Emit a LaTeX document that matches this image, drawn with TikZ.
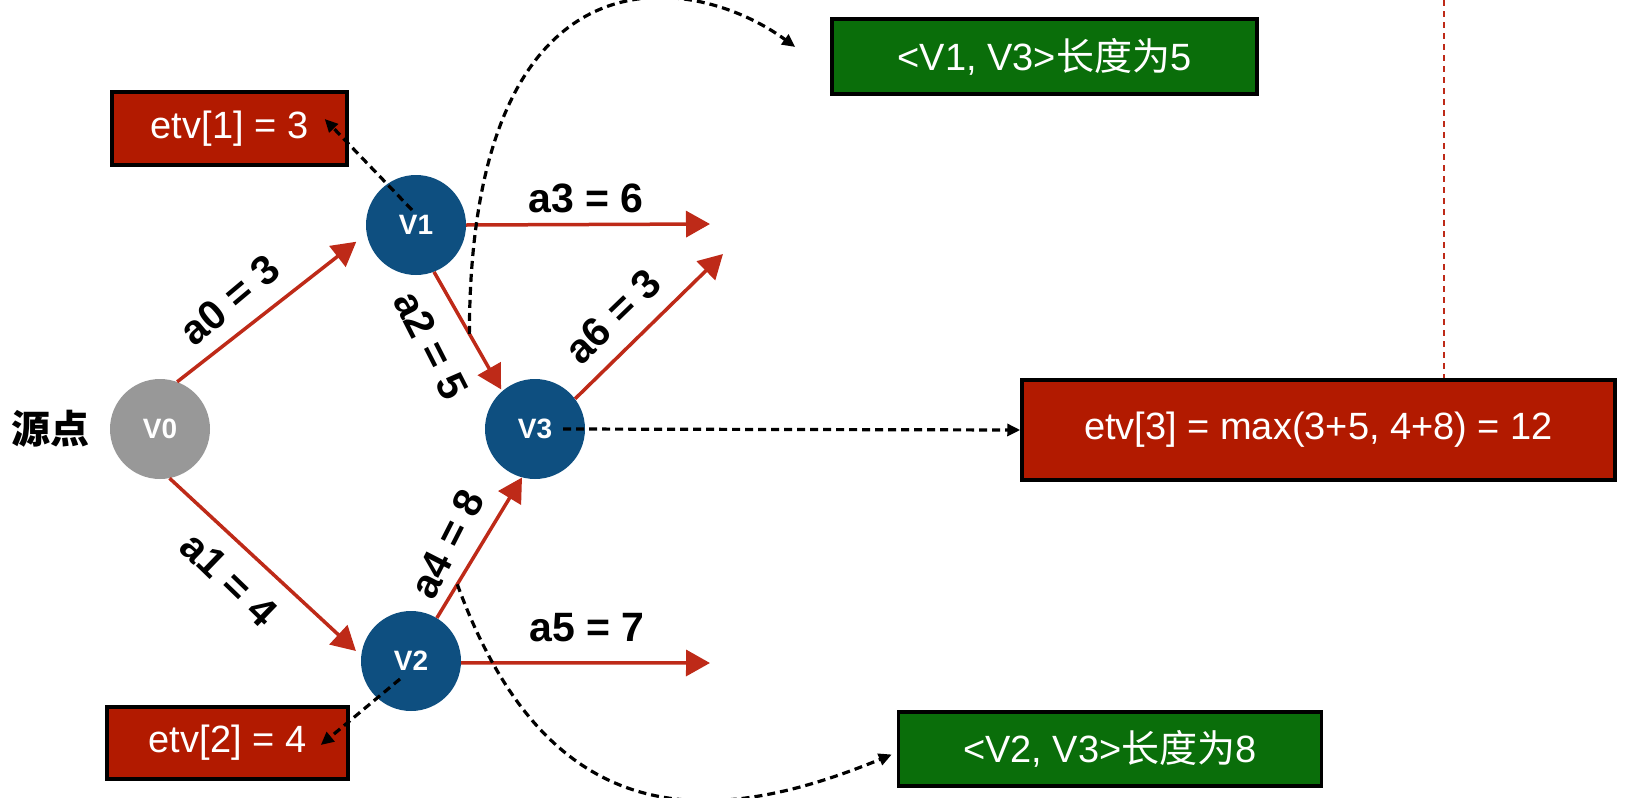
\documentclass[tikz,border=0pt]{standalone}
\usepackage{fontspec}
\setmainfont{Liberation Sans}
\newfontfamily\cjk{Noto Sans CJK SC}
\usetikzlibrary{arrows.meta,calc}
\definecolor{nodeblue}{HTML}{0E4F80}
\definecolor{nodegrey}{HTML}{989898}
\definecolor{boxred}{HTML}{B21A00}
\definecolor{boxgreen}{HTML}{0A6E0A}
\definecolor{arrowred}{HTML}{BE2A18}
\begin{document}
\begin{tikzpicture}[x=1pt,y=-1pt,
  vert/.style={circle,minimum size=100pt,inner sep=0pt,fill=nodeblue,text=white,font=\bfseries\fontsize{28}{30}\selectfont},
  infobox/.style={draw=black,line width=3.5pt,fill=boxred,text=white,inner sep=0pt,font=\fontsize{38}{42}\selectfont},
  greenbox/.style={infobox,fill=boxgreen},
  edge/.style={draw=arrowred,line width=3.5pt,-{Triangle[length=24pt,width=26pt]}},
  lbl/.style={font=\bfseries\fontsize{41}{44}\selectfont,inner sep=0pt},
  ptr/.style={draw=black,line width=3.2pt,dash pattern=on 8pt off 5pt,-{Triangle[length=13pt,width=12pt]}},
  guide/.style={draw=arrowred,line width=2.2pt,dash pattern=on 6pt off 5pt},
]
\useasboundingbox (0,0) rectangle (1650,798);

% vertices
\node[vert,fill=nodegrey] (V0) at (160,429) {V0};
\node[vert] (V1) at (416,225) {V1};
\node[vert] (V2) at (411,661) {V2};
\node[vert] (V3) at (535,429) {V3};
\node[font=\cjk\bfseries\fontsize{39}{42}\selectfont,inner sep=0pt] (src) at (51,429) {源点};

% boxes
\node[infobox,minimum width=235pt,minimum height=73pt] (E1) at (229.5,128.5) {etv[1] = 3};
\node[infobox,minimum width=241pt,minimum height=72pt] (E2) at (227.5,743) {etv[2] = 4};
\node[greenbox,minimum width=425pt,minimum height=75pt] (G1) at (1044.5,56.5) {<V1, V3>{\cjk 长度为}5};
\node[greenbox,minimum width=423pt,minimum height=74pt] (G2) at (1110,749) {<V2, V3>{\cjk 长度为}8};
\node[infobox,minimum width=593pt,minimum height=100pt] (BIG) at (1318.5,430) {etv[3] = max(3+5, 4+8) = 12};

% free ends
\coordinate (a3end) at (710,224);
\coordinate (a5end) at (710,663);
\coordinate (a6end) at (723,254);
\coordinate (topend) at (1444,0);

% edges
\path[edge,shorten >=13pt] (V0.70) -- (V1.190);
\path[edge,shorten >=7pt] (V0.281) -- (V2.174);
\path[edge,shorten >=2pt] (V1.291) -- coordinate[pos=0.52] (c1) (V3.131);
\path[edge] (V1.0) -- (a3end);
\path[edge] (V2.59) -- coordinate[pos=0.24] (c2) (V3.255);
\path[edge] (V2.358) -- (a5end);
\path[edge] (V3.37) -- (a6end);

% edge labels
\node[lbl] (l3) at (586,198) {a3 = 6};
\node[lbl] (l5) at (587,628) {a5 = 7};
\node[lbl,rotate=40] (l0) at (230,300) {a0 = 3};
\node[lbl,rotate=-44] (l1) at (229,579) {a1 = 4};
\node[lbl,rotate=-63] (l2) at (431,345) {a2 = 5};
\node[lbl,rotate=44] (l6) at (613,316) {a6 = 3};
\node[lbl,rotate=63] (l4) at (447,544) {a4 = 8};

% pointers
\draw[ptr] ([shift={(-4,-15)}]V1.center) -- ([shift={(-24,-9.5)}]E1.east);
\draw[ptr] ([shift={(-11,18)}]V2.center) -- ([shift={(-29,2)}]E2.east);
\draw[ptr] ([shift={(28,0)}]V3.center) -- (BIG.west);
\draw[ptr] (c1) .. controls (470,-60) and (690,-30) .. ($(G1.west)+(-35,-9.5)$);
\draw[ptr] (c2) .. controls (547,831) and (707,831) .. ($(G2.west)+(-5,5.5)$);

% guide line
\path[guide] (topend) -- (topend |- BIG.north);
\end{tikzpicture}
\end{document}
